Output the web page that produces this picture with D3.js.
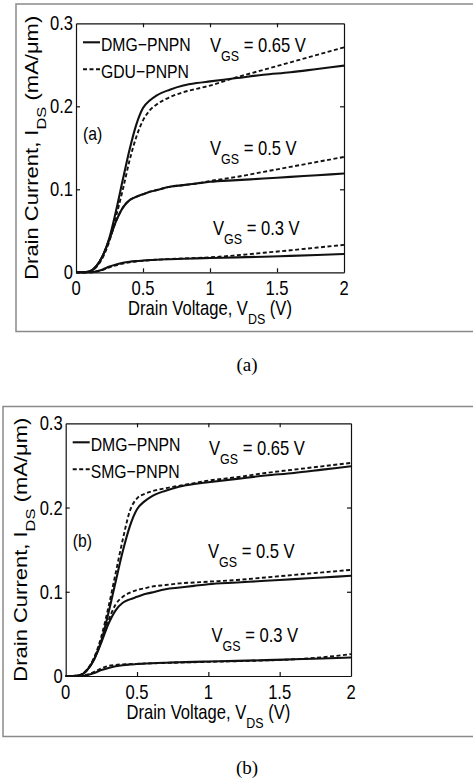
<!DOCTYPE html>
<html>
<head>
<meta charset="utf-8">
<script src="https://cdn.jsdelivr.net/npm/d3@7"></script>
<style>
  body { margin: 0; background: #fff; }
  svg { display: block; }
  text { font-family: "Liberation Sans", Arial, sans-serif; fill: #000; }
</style>
</head>
<body>
<div id="chart"></div>
<script>
// drain voltage samples (V)
var vds = [0, 0.05, 0.1, 0.15, 0.2, 0.25, 0.3, 0.35, 0.4, 0.45, 0.5, 0.55, 0.6, 0.7, 0.8, 0.9, 1.0, 1.2, 1.4, 1.6, 1.8, 2.0];

// DMG-PNPN drain current (mA/um)
var dmg065 = [0, 0, 0.001, 0.007, 0.02, 0.042, 0.075, 0.112, 0.148, 0.178, 0.198, 0.207, 0.213, 0.220, 0.225, 0.228, 0.230, 0.234, 0.238, 0.241, 0.245, 0.249];
var dmg05  = [0, 0, 0.001, 0.007, 0.02, 0.04, 0.062, 0.078, 0.087, 0.091, 0.094, 0.097, 0.099, 0.103, 0.105, 0.107, 0.109, 0.111, 0.113, 0.115, 0.117, 0.119];
var dmg03  = [0, 0, 0, 0.001, 0.0035, 0.007, 0.0095, 0.0115, 0.0128, 0.0136, 0.0142, 0.0148, 0.0152, 0.0158, 0.0163, 0.0168, 0.0172, 0.018, 0.0188, 0.0198, 0.0208, 0.022];

// GDU-PNPN (panel a)
var gdu065 = [0, 0, 0.001, 0.006, 0.018, 0.038, 0.068, 0.100, 0.135, 0.163, 0.183, 0.195, 0.202, 0.211, 0.217, 0.221, 0.225, 0.235, 0.244, 0.253, 0.262, 0.271];
var gdu05  = [0, 0, 0.001, 0.007, 0.02, 0.04, 0.062, 0.078, 0.087, 0.091, 0.094, 0.097, 0.099, 0.103, 0.105, 0.107, 0.110, 0.115, 0.121, 0.127, 0.133, 0.139];
var gdu03  = [0, 0, 0, 0.001, 0.003, 0.006, 0.0085, 0.0105, 0.012, 0.013, 0.0138, 0.0145, 0.0151, 0.016, 0.0167, 0.0172, 0.018, 0.0205, 0.0235, 0.0265, 0.0298, 0.033];

// SMG-PNPN (panel b)
var smg065 = [0, 0, 0.001, 0.008, 0.022, 0.047, 0.082, 0.122, 0.162, 0.196, 0.211, 0.216, 0.219, 0.223, 0.226, 0.229, 0.232, 0.236, 0.241, 0.245, 0.249, 0.253];
var smg05  = [0, 0, 0.001, 0.007, 0.021, 0.042, 0.066, 0.085, 0.094, 0.099, 0.102, 0.104, 0.106, 0.108, 0.110, 0.111, 0.112, 0.114, 0.117, 0.120, 0.123, 0.126];
var smg03  = [0, 0, 0, 0.0015, 0.005, 0.009, 0.012, 0.0132, 0.0138, 0.0141, 0.0144, 0.0147, 0.015, 0.0155, 0.016, 0.0164, 0.0168, 0.0176, 0.0185, 0.0198, 0.0222, 0.026];

var xTicks = [0, 0.5, 1, 1.5, 2];
var yTicks = [0, 0.1, 0.2, 0.3];
var vgsLabels = ["0.65", "0.5", "0.3"];

var sx = 0.83; // figure is squeezed horizontally

var svg = d3.select("#chart").append("svg")
    .attr("width", 473)
    .attr("height", 783);

// text helper: squeezed text with optional subscript part
function label(g, x, y, parts, size, anchor, rot) {
  var t = g.append("text")
      .attr("transform", "translate(" + x + "," + y + ")" + (rot ? " rotate(-90) scale(1," + sx + ")" : " scale(" + sx + ",1)"))
      .style("font-size", size + "px")
      .attr("text-anchor", anchor || "start");
  parts.forEach(function(p) {
    var s = t.append("tspan").text(p.t);
    if (p.sub) s.attr("dy", size * 0.45).style("font-size", (size * 0.75) + "px");
    if (p.up) s.attr("dy", -size * 0.45);
  });
  return t;
}

function panel(cfg) {
  var g = svg.append("g");

  // outer grey frame
  g.append("rect")
    .attr("x", cfg.frame[0]).attr("y", cfg.frame[1])
    .attr("width", 480 - cfg.frame[0]).attr("height", cfg.frame[2] - cfg.frame[1])
    .attr("fill", "none").attr("stroke", "#8a8a8a").attr("stroke-width", 1.5);

  var x = d3.scaleLinear().domain([0, 2]).range([cfg.left, cfg.right]);
  var y = d3.scaleLinear().domain([0, 0.3]).range([cfg.bottom, cfg.top]);

  var axes = [
    g.append("g").attr("transform", "translate(0," + cfg.bottom + ")")
      .call(d3.axisBottom(x).tickValues([0.5, 1, 1.5]).tickSizeInner(-4).tickSizeOuter(0).tickFormat("")),
    g.append("g").attr("transform", "translate(0," + cfg.top + ")")
      .call(d3.axisTop(x).tickValues([0.5, 1, 1.5]).tickSizeInner(-4).tickSizeOuter(0).tickFormat("")),
    g.append("g").attr("transform", "translate(" + cfg.left + ",0)")
      .call(d3.axisLeft(y).tickValues([0.1, 0.2]).tickSizeInner(-4).tickSizeOuter(0).tickFormat("")),
    g.append("g").attr("transform", "translate(" + cfg.right + ",0)")
      .call(d3.axisRight(y).tickValues([0.1, 0.2]).tickSizeInner(-4).tickSizeOuter(0).tickFormat(""))
  ];
  axes.forEach(function(a) {
    a.selectAll("path,line").attr("stroke", "#111").attr("stroke-width", 1.2);
  });

  // tick labels
  xTicks.forEach(function(v) {
    label(g, x(v), cfg.bottom + 23, [{t: d3.format("")(v)}], 20, "middle");
  });
  yTicks.forEach(function(v) {
    label(g, cfg.left - 3, y(v) + 7, [{t: d3.format("")(v)}], 20, "end");
  });

  // axis titles
  label(g, (cfg.left + cfg.right) / 2, cfg.bottom + 43,
    [{t: "Drain Voltage, V"}, {t: "DS", sub: true}, {t: " (V)", up: true}], 20, "middle");
  label(g, cfg.ylx, (cfg.top + cfg.bottom) / 2,
    [{t: "Drain Current, I"}, {t: "DS", sub: true}, {t: " (mA/\u03bcm)", up: true}], 22, "middle", true);

  // curves
  var line = d3.line()
      .x(function(d) { return x(d[0]); })
      .y(function(d) { return y(d[1]); })
      .curve(d3.curveMonotoneX);

  cfg.series.forEach(function(s) {
    g.append("path")
      .datum(vds.map(function(v, i) { return [v, s.values[i]]; }))
      .attr("d", line)
      .attr("fill", "none")
      .attr("stroke", "#111")
      .attr("stroke-width", s.dashed ? 1.9 : 2.1)
      .attr("stroke-dasharray", s.dashed ? "4,2.5" : null);
  });

  // legend
  var ly = [cfg.top + 19, cfg.top + 46];
  cfg.names.forEach(function(n, i) {
    g.append("line")
      .attr("x1", cfg.left + 7).attr("x2", cfg.left + 24)
      .attr("y1", ly[i]).attr("y2", ly[i])
      .attr("stroke", "#111").attr("stroke-width", i ? 1.9 : 2.1)
      .attr("stroke-dasharray", i ? "4,2.5" : null);
    label(g, cfg.left + 25, ly[i] + 9, [{t: n}], 19, "start");
  });

  // panel letter
  label(g, cfg.left + 7, cfg.letterY, [{t: cfg.letter}], 19, "start");

  // VGS labels
  vgsLabels.forEach(function(v, i) {
    label(g, cfg.vgs[i][0], cfg.vgs[i][1],
      [{t: "V"}, {t: "GS", sub: true}, {t: " = " + v + " V", up: true}], 20, "start");
  });

  // caption under frame
  g.append("text")
    .attr("x", 247).attr("y", cfg.capY)
    .attr("text-anchor", "middle")
    .style("font-family", "'Liberation Serif', 'Times New Roman', serif")
    .style("font-size", "19px")
    .text("(" + cfg.letter.replace(/[()]/g, "") + ")");
}

panel({
  frame: [16, 4, 331.5],
  left: 76, right: 344, top: 23.3, bottom: 272.3,
  ylx: 38,
  names: ["DMG\u2212PNPN", "GDU\u2212PNPN"],
  letter: "(a)", letterY: 140,
  vgs: [[210, 51.5], [210, 155], [213, 235]],
  capY: 371,
  series: [
    {values: dmg065}, {values: dmg05}, {values: dmg03},
    {values: gdu065, dashed: true}, {values: gdu05, dashed: true}, {values: gdu03, dashed: true}
  ]
});

panel({
  frame: [3, 406.5, 736.5],
  left: 65.7, right: 351, top: 423.3, bottom: 676,
  ylx: 27,
  names: ["DMG\u2212PNPN", "SMG\u2212PNPN"],
  letter: "(b)", letterY: 546.5,
  vgs: [[209, 455], [208, 558], [211.5, 641.5]],
  capY: 774,
  series: [
    {values: dmg065}, {values: dmg05}, {values: dmg03},
    {values: smg065, dashed: true}, {values: smg05, dashed: true}, {values: smg03, dashed: true}
  ]
});
</script>
</body>
</html>
